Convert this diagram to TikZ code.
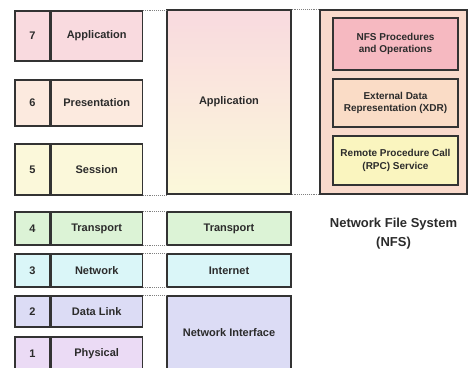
\documentclass[tikz,border=0pt]{standalone}
\usepackage{fontspec}
\setmainfont{Liberation Sans}
\usetikzlibrary{positioning, shadows}
\definecolor{appc}{HTML}{F9DADF}
\definecolor{presc}{HTML}{FCEADF}
\definecolor{sessc}{HTML}{FBF8DA}
\definecolor{transc}{HTML}{DCF3D6}
\definecolor{netc}{HTML}{DAF6F8}
\definecolor{dlc}{HTML}{DCDCF5}
\definecolor{physc}{HTML}{EBDBF5}
\definecolor{nfsc}{HTML}{F9DACC}
\definecolor{procc}{HTML}{F6B9C1}
\definecolor{xdrc}{HTML}{FADCC6}
\definecolor{rpcc}{HTML}{FAF5BF}
\definecolor{txtc}{HTML}{2B2B2B}
\tikzstyle{box} = [rectangle, draw=black!80, line width=1.2pt, inner sep=2pt, text=txtc, font=\fontsize{11}{13}\selectfont\bfseries, drop shadow={shadow xshift=1.2pt, shadow yshift=-1.2pt, opacity=0.25}]
\tikzstyle{num} = [box, minimum width=35pt]
\tikzstyle{layer} = [box, minimum width=91pt]
\tikzstyle{tcp} = [box, minimum width=124pt]
\tikzstyle{nfspart} = [box, minimum width=125pt, align=center, font=\fontsize{10}{12.5}\selectfont\bfseries]
\tikzstyle{dots} = [densely dotted, gray, line width=0.9pt]

\begin{document}
\begin{tikzpicture}[x=1pt, y=-1pt]
    \useasboundingbox (0,0) rectangle (472,372);
    \begin{scope}
        \clip (0,0) rectangle (472,367);
        % OSI model
        \node (n7) [num, fill=appc, minimum height=50pt] at (32.5,36) {7};
        \node (l7) [layer, fill=appc, minimum height=50pt, right=0pt of n7] {Application};
        \node (n6) [num, fill=presc, minimum height=46pt] at (32.5,103) {6};
        \node (l6) [layer, fill=presc, minimum height=46pt, right=0pt of n6] {Presentation};
        \node (n5) [num, fill=sessc, minimum height=51pt] at (32.5,169.5) {5};
        \node (l5) [layer, fill=sessc, minimum height=51pt, right=0pt of n5] {Session};
        \node (n4) [num, fill=transc, minimum height=33pt] at (32.5,228.5) {4};
        \node (l4) [layer, fill=transc, minimum height=33pt, right=0pt of n4] {Transport};
        \node (n3) [num, fill=netc, minimum height=33pt] at (32.5,270.5) {3};
        \node (l3) [layer, fill=netc, minimum height=33pt, right=0pt of n3] {Network};
        \node (n2) [num, fill=dlc, minimum height=31pt] at (32.5,311.5) {2};
        \node (l2) [layer, fill=dlc, minimum height=31pt, right=0pt of n2] {Data Link};
        \node (n1) [num, fill=physc, minimum height=33pt] at (32.5,353.5) {1};
        \node (l1) [layer, fill=physc, minimum height=33pt, right=0pt of n1] {Physical};

        % TCP/IP model
        \node (app) [tcp, top color=appc, bottom color=sessc, minimum height=184pt] at (229,102) {Application};
        \node (tr) [tcp, fill=transc, minimum height=33pt] at (229,228.5) {Transport};
        \node (inet) [tcp, fill=netc, minimum height=33pt] at (229,270.5) {Internet};
        \node (ni) [tcp, fill=dlc, minimum height=74pt] at (229,333) {Network Interface};

        % NFS
        \node (nfs) [box, fill=nfsc, minimum width=147pt, minimum height=184pt] at (393.5,102) {};
        \node (proc) [nfspart, fill=procc, minimum height=52pt] at (395.5,44) {NFS Procedures\\and Operations};
        \node (xdr) [nfspart, fill=xdrc, minimum height=48pt] at (395.5,103) {External Data\\Representation (XDR)};
        \node (rpc) [nfspart, fill=rpcc, minimum height=49pt] at (395.5,160.5) {Remote Procedure Call\\(RPC) Service};
        \node (nfslabel) [below=20pt of nfs, align=center, text=txtc, font=\fontsize{13}{19}\selectfont\bfseries] {Network File System\\(NFS)};

        \draw [dots] (l7.north east) -- (l7.north east -| app.west);
        \draw [dots] (l5.south east) -- (l5.south east -| app.west);
        \draw [dots] (l4.north east) -- (tr.north west);
        \draw [dots] (l4.south east) -- (tr.south west);
        \draw [dots] (l3.north east) -- (inet.north west);
        \draw [dots] (l3.south east) -- (inet.south west);
        \draw [dots] (l2.north east) -- (ni.north west);
        \draw [dots] (app.north east) -- (nfs.north west);
        \draw [dots] (app.south east) -- (nfs.south west);
    \end{scope}
\end{tikzpicture}
\end{document}
